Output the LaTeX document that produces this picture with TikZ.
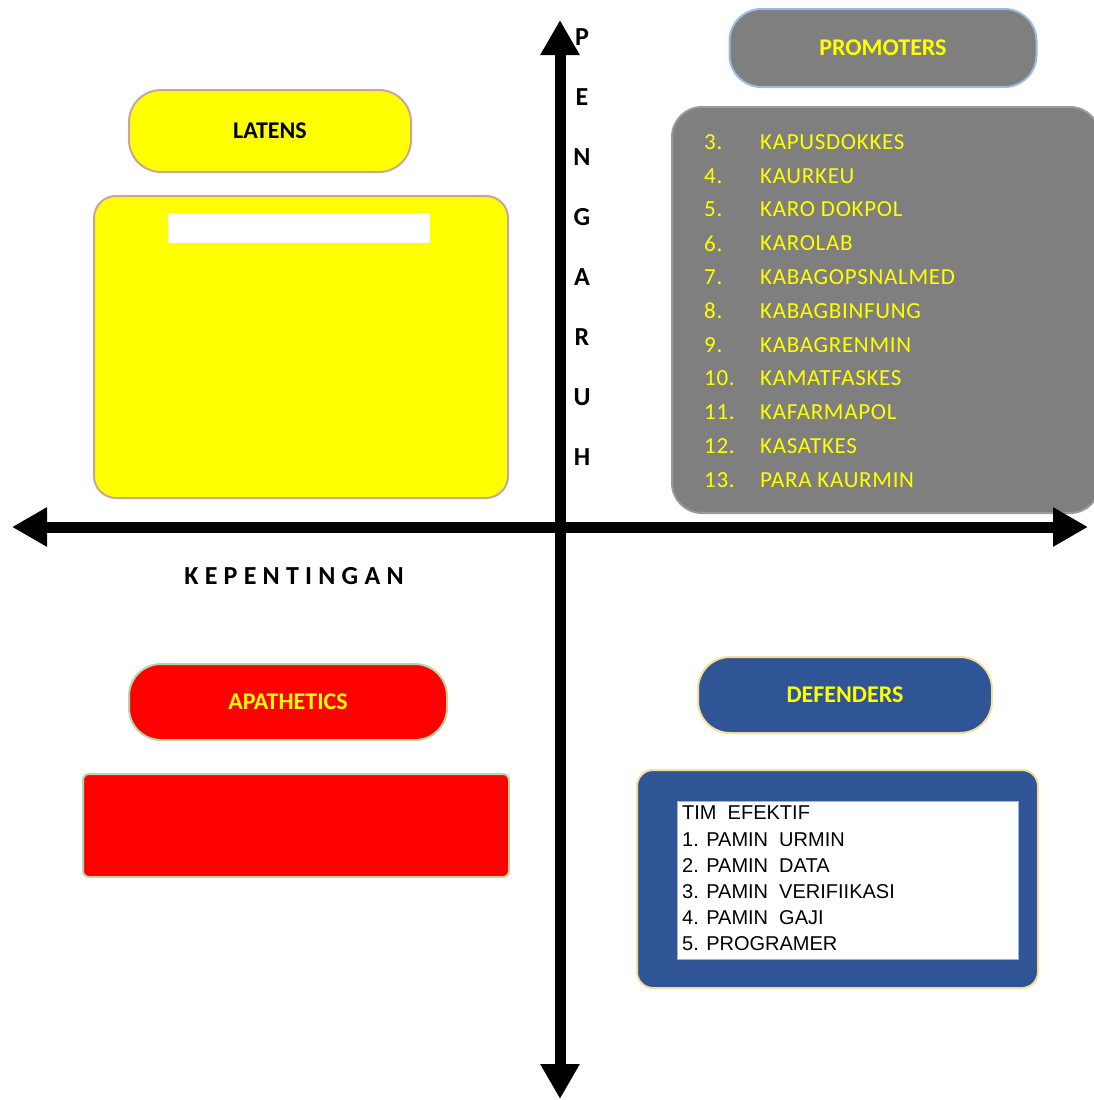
\documentclass[tikz,border=0pt]{standalone}
\usepackage{fontspec}
\setmainfont{Carlito}
\newfontfamily\arialfont{Liberation Sans}
\usetikzlibrary{arrows.meta}
\usetikzlibrary{positioning}
\definecolor{color_latens_bg}{HTML}{FFFF00}
\definecolor{color_latens_glow}{HTML}{C9A59B}
\definecolor{color_promoters_bg}{HTML}{7F7F7F}
\definecolor{color_promoters_glow}{HTML}{9DB9DD}
\definecolor{color_apathetics_bg}{HTML}{FF0000}
\definecolor{color_apathetics_glow}{HTML}{B9D4A6}
\definecolor{color_defenders_bg}{HTML}{2F5597}
\definecolor{color_defenders_glow}{HTML}{F5DE9A}
\definecolor{color_label_text}{HTML}{FFFF00}
\definecolor{color_listbox_border}{HTML}{9FB3D6}
\def\axislinewidth{11pt}
\def\axisletterspacing{60}
\def\promoterrowstep{33.8}
\def\labelsize{\fontsize{24}{28}\selectfont}
\def\listsize{\fontsize{23}{27}\selectfont\addfontfeature{LetterSpace=3}}
\def\axislettersize{\fontsize{26}{30}\selectfont}
\tikzset{
    pill/.style={rectangle, rounded corners=32pt, inner sep=0pt, line width=2pt, font=\bfseries\labelsize},
    panel/.style={rectangle, rounded corners=22pt, inner sep=0pt, line width=2pt},
    axisletter/.style={inner sep=0pt, font=\bfseries\axislettersize},
    listitem/.style={anchor=west, inner sep=0pt, text=color_label_text, font=\listsize},
}

\begin{document}
\begin{tikzpicture}[x=1pt,y=-1pt]
        \useasboundingbox (0,0) rectangle (1093,1100);
        % quadrant panels
        \node[pill, fill=color_latens_bg, draw=color_latens_glow, minimum width=282, minimum height=82] (latens) at (270,131) {LATENS};
        \node[panel, fill=color_latens_bg, draw=color_latens_glow, minimum width=414, minimum height=302] (latensbox) at (301,347) {};
        \node[rectangle, fill=white, minimum width=262, minimum height=30] (latensbar) at (299,228) {};
        \node[pill, fill=color_promoters_bg, draw=color_promoters_glow, text=color_label_text, minimum width=307, minimum height=78] (promoters) at (883,48) {PROMOTERS};
        \node[panel, rounded corners=30pt, fill=color_promoters_bg, draw=color_promoters_bg!80!white, minimum width=428, minimum height=406] (promotersbox) at (886,310) {};
        \node[pill, fill=color_apathetics_bg, draw=color_apathetics_glow, text=color_label_text, minimum width=318, minimum height=76] (apathetics) at (288,702) {APATHETICS};
        \node[panel, rounded corners=6pt, fill=color_apathetics_bg, draw=color_apathetics_glow, minimum width=426, minimum height=103] (apatheticsbox) at (296,825.5) {};
        \node[pill, fill=color_defenders_bg, draw=color_defenders_glow, text=color_label_text, minimum width=294, minimum height=76] (defenders) at (845,695) {DEFENDERS};
        \node[panel, rounded corners=16pt, fill=color_defenders_bg, draw=color_defenders_glow, minimum width=401, minimum height=218] (defendersbox) at (837.5,879) {};
        \node[rectangle, fill=white, draw=color_listbox_border, line width=1pt, minimum width=341, minimum height=158] (defenderslist) at (847.5,880) {};
        \node[anchor=north west, inner sep=0pt, align=left, font=\arialfont\fontsize{20}{26.2}\selectfont] (defendersitems) at (682,806) {TIM\ \ EFEKTIF\\1. PAMIN\ \ URMIN\\2. PAMIN\ \ DATA\\3. PAMIN\ \ VERIFIIKASI\\4. PAMIN\ \ GAJI\\5. PROGRAMER};
        % promoters list
        \foreach \num/\name [count=\i from 0] in {3./KAPUSDOKKES,4./KAURKEU,5./KARO DOKPOL,6./KAROLAB,7./KABAGOPSNALMED,8./KABAGBINFUNG,9./KABAGRENMIN,10./KAMATFASKES,11./KAFARMAPOL,12./KASATKES,13./PARA KAURMIN}
        {
            \node[listitem] (num\i) at (704,142+\promoterrowstep*\i) {\num};
            \node[listitem] (name\i) at (760,142+\promoterrowstep*\i) {\name};
        }
        % axes
        \coordinate (xleft) at (12,527);
        \coordinate (xright) at (1088,527);
        \coordinate (ytop) at (560,20);
        \coordinate (ybottom) at (560,1099);
        \draw[line width=\axislinewidth, {Triangle[length=35pt,width=37pt]}-{Triangle[length=35pt,width=37pt]}] (xleft) -- (xright);
        \draw[line width=\axislinewidth, {Triangle[length=35pt,width=37pt]}-{Triangle[length=35pt,width=37pt]}] (ytop) -- (ybottom);
        % axis labels
        \foreach \c [count=\i from 0] in {P,E,N,G,A,R,U,H}
            \node[axisletter] (pengaruh\i) at (582,37+\axisletterspacing*\i) {\c};
        \node[axisletter, font=\bfseries\axislettersize\addfontfeature{LetterSpace=24}] (kepentingan) at (294,576) {KEPENTINGAN};
    \end{tikzpicture}
\end{document}
